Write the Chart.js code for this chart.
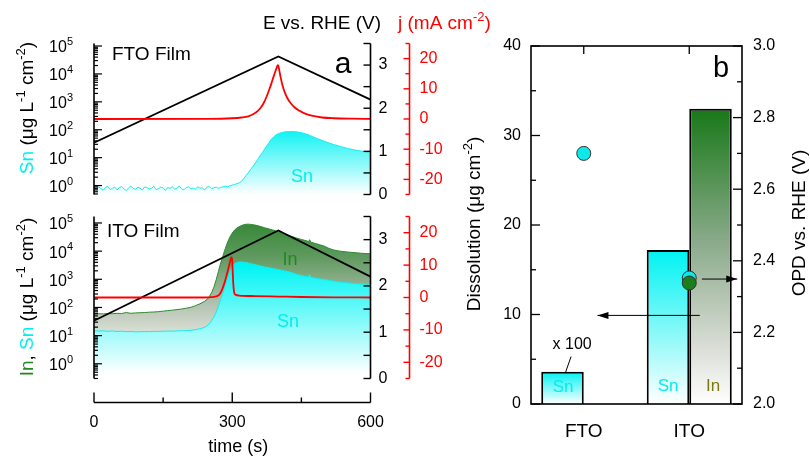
<!DOCTYPE html>
<html><head><meta charset="utf-8">
<script src="https://cdn.jsdelivr.net/npm/chart.js@4.4.0/dist/chart.umd.min.js"></script>
<style>
html,body{margin:0;padding:0;background:#fff;}
#wrap{position:relative;width:810px;height:462px;overflow:hidden;background:#fff;}
canvas{position:absolute;left:0;top:0;}
</style></head><body>
<div id="wrap">
<canvas id="cTop" width="810" height="462"></canvas>
<canvas id="cBot" width="810" height="462"></canvas>
<canvas id="cBar" width="810" height="462"></canvas>
</div>
<script>
// ---------------- DATA (panel a) ----------------
// time (s) vs potential E (V vs RHE)
const eTop = [[0,1.2],[400,3.2],[600,2.2]];
const eBottom = [[0,1.25],[400,3.2],[600,2.2]];
// current density j (mA cm-2)
const jTop = [[0,0],[250,0.05],[300,0.25],[320,0.5],[335,0.9],[345,1.6],[355,2.6],[362,3.8],[368,5.2],[374,7.2],[380,9.6],[385,11.8],[390,14.2],[394,16],[397,17.2],[399,17.8],[400,17.6],[402,16.2],[405,13.8],[409,11.2],[414,8.8],[420,6.8],[427,5.2],[435,3.9],[445,2.8],[458,1.8],[475,1.0],[495,0.5],[520,0.25],[560,0.1],[600,0.05]];
const jBottom = [[0,0],[240,0],[255,0.1],[263,0.25],[268,0.5],[272,0.9],[276,1.8],[280,3.2],[284,4.9],[288,7],[292,9.2],[295,11],[297.5,12.3],[299,12.4],[300,11.2],[301,8],[302,4.8],[303.5,2.2],[305,1.2],[308,0.8],[315,0.6],[350,0.45],[400,0.3],[450,0.15],[520,0.05],[600,0]];
// dissolved Sn from FTO film (ug L-1 cm-2)
const snFTO = [[0,0.82],[5,0.74],[10,0.9],[15,0.78],[20,0.68],[25,0.86],[30,0.95],[35,0.72],[40,0.8],[45,0.88],
[50,0.7],[55,0.84],[60,0.92],[65,0.76],[70,0.66],[75,0.83],[80,0.97],[85,0.79],[90,0.73],[95,0.87],
[100,0.81],[105,0.69],[110,0.9],[115,0.85],[120,0.75],[125,0.8],[130,0.94],[135,0.71],[140,0.78],[145,0.88],
[150,0.83],[155,0.67],[160,0.86],[165,0.79],[170,0.92],[175,0.74],[180,0.81],[185,0.96],[190,0.77],[195,0.7],
[200,0.85],[205,0.89],[210,0.76],[215,0.82],[220,0.73],[225,0.91],[230,0.8],[235,0.84],[240,0.69],[245,0.87],
[250,0.93],[255,0.78],[260,0.83],[265,0.88],[270,0.8],[275,0.86],[280,0.9],[285,0.95],
[290,0.9],[295,0.98],[300,1.04],[305,1.1],[310,1.16],[315,1.25],[320,1.42],[325,1.78],[330,2.3],[335,2.9],
[340,3.8],[345,4.9],[350,6.4],[355,8.4],[360,11.5],[365,15],[370,20],[375,26.5],[380,35],[385,46],
[390,56],[395,65],[400,72],[405,77],[410,81],[415,84],[420,86],[425,85],[430,87],[435,85],
[440,84],[445,81],[450,78],[455,74],[460,70],[465,66],[470,61],[475,56],[480,52],[485,48],
[490,44.5],[495,41],[500,38.5],[505,36],[510,33.5],[515,31.5],[520,29.5],[525,28],[530,26.5],[535,25.2],
[540,23.8],[545,22.6],[550,21.5],[555,20.6],[560,19.7],[565,19],[570,18.3],[575,17.7],[580,17.2],[585,16.7],
[590,16.3],[595,16],[600,15.9]];
// dissolved In and Sn from ITO film (ug L-1 cm-2)
const inITO = [[0,58],[10,60],[20,59],[30,61],[40,60],[50,62],[60,61],[70,66],[80,62],[90,64],[100,65],[110,66],[120,68],[130,69],[140,71],[150,74],[160,77],[170,80],[180,84],[190,88],[200,94],[210,101],[220,115],[230,135],[240,165],[245,190],[250,240],[255,330],[260,520],[265,950],[270,1900],[275,3800],[280,7000],[285,12500],[290,21000],[295,32000],[300,44000],[305,56000],[310,66000],[315,74000],[320,81000],[325,87000],[330,90000],[335,91000],[340,89000],[350,84000],[360,76000],[370,68000],[380,61000],[390,55000],[400,49000],[410,42000],[420,37000],[430,33000],[440,29000],[450,26000],[460,23500],[466,22000],[468,25500],[470,21000],[480,18800],[490,16800],[500,15000],[510,12500],[520,11000],[530,10200],[540,9700],[550,9300],[560,9000],[570,8700],[580,8400],[590,8200],[600,8100]];
const snITO = [[0,15],[10,14.5],[20,14.8],[30,14.2],[40,14.6],[50,14],[60,14.4],[70,13.8],[80,14.1],[90,13.6],[100,13.7],[110,14],[120,13.8],[130,14.2],[140,14],[150,14.3],[160,14.5],[170,14.4],[180,14.7],[190,14.9],[200,15],[210,15.5],[220,16.3],[230,17.5],[240,19.6],[245,22],[250,26],[255,33.5],[260,45],[265,66],[270,110],[275,195],[280,350],[285,650],[290,1150],[295,1930],[300,2800],[305,3600],[310,3950],[315,4100],[320,4130],[330,3950],[340,3600],[350,3300],[360,3000],[370,2750],[380,2550],[390,2380],[400,2210],[410,2050],[420,1880],[430,1700],[440,1500],[450,1360],[460,1260],[466,1220],[468,1480],[470,1180],[480,1100],[490,1030],[500,980],[510,920],[520,860],[530,810],[540,780],[550,750],[560,720],[570,700],[580,680],[590,665],[600,656]];
// tick labels
const logExponents = [0,1,2,3,4,5];
const eTicks = [0,1,2,3];
const jTicks = [20,10,0,-10,-20];
const timeTicks = [0,300,600];

// ---------------- DATA (panel b) ----------------
const materials = ['FTO','ITO'];
const dissolutionSn = [3.6, 17.2];      // ug cm-2 (FTO value x100)
const dissolutionIn = [null, 33.0];
const opdSn = [2.70, 2.352];            // V vs RHE
const opdIn = [null, 2.338];
const dissTicks = [0,10,20,30,40];
const opdTicks = [2.0,2.2,2.4,2.6,2.8,3.0];

// ---------------- STYLE ----------------
const FONT = '"Liberation Sans", Arial, Helvetica, sans-serif';
const CYAN_TXT = '#00eeee';
const GREEN_LINE = '#2e8b2e';
const GREEN_TXT = '#1f8a1f';
const RED = '#ff0000';
Chart.defaults.font.family = FONT;

function toXY(a){ return a.map(p => ({x:p[0], y:p[1]})); }
function grad(chart, stops, top, bottom){
  const a = chart.chartArea;
  if (!a) return stops[0][1];
  const g = chart.ctx.createLinearGradient(0, top == null ? a.top : top, 0, bottom == null ? a.bottom : bottom);
  for (const [o,c] of stops) g.addColorStop(o,c);
  return g;
}
function line(ctx,x1,y1,x2,y2,color,w){
  ctx.beginPath(); ctx.moveTo(x1,y1); ctx.lineTo(x2,y2);
  ctx.strokeStyle = color; ctx.lineWidth = w; ctx.stroke();
}
function supSize(s){ return Math.round(s*0.68); }
function richWidth(ctx, segs, size){
  let w = 0;
  for (const s of segs){ ctx.font = (s.sup ? supSize(size) : size) + 'px ' + FONT; w += ctx.measureText(s.t).width; }
  return w;
}
function rich(ctx, segs, x, y, size, align, rot){
  ctx.save(); ctx.translate(x,y); if (rot) ctx.rotate(rot);
  const w = richWidth(ctx, segs, size);
  let cx = align === 'center' ? -w/2 : (align === 'right' ? -w : 0);
  ctx.textBaseline = 'middle'; ctx.textAlign = 'left';
  for (const s of segs){
    const fs = s.sup ? supSize(size) : size;
    ctx.font = fs + 'px ' + FONT; ctx.fillStyle = s.c || '#000';
    ctx.fillText(s.t, cx, s.sup ? -size*0.36 : 0);
    cx += ctx.measureText(s.t).width;
  }
  ctx.restore();
}
function txt(ctx, t, x, y, size, align, color, baseline){
  ctx.save(); ctx.font = size + 'px ' + FONT; ctx.fillStyle = color || '#000';
  ctx.textAlign = align || 'center'; ctx.textBaseline = baseline || 'middle';
  ctx.fillText(t, x, y); ctx.restore();
}

// shared axis drawing for panel a
function drawPanelAxes(chart){
  const ctx = chart.ctx, a = chart.chartArea;
  const sL = chart.scales.yLog, sE = chart.scales.yE, sJ = chart.scales.yJ;
  ctx.save();
  // log axis (left)
  line(ctx, a.left, a.top, a.left, a.bottom, '#000', 1.6);
  for (let e = -1; e <= 5; e++){
    for (let m = 1; m < 10; m++){
      const v = m * Math.pow(10, e);
      if (v < sL.min*0.999 || v > sL.max*1.001) continue;
      const y = sL.getPixelForValue(v);
      line(ctx, a.left, y, a.left + (m === 1 ? 8 : 4), y, '#000', 1.2);
    }
  }
  for (const e of logExponents){
    rich(ctx, [{t:'10'},{t:String(e), sup:true}], a.left - 21, sL.getPixelForValue(Math.pow(10,e)) + 2, 16, 'right');
  }
  // E axis (right of plot)
  line(ctx, a.right, a.top, a.right, a.bottom, '#000', 1.6);
  for (let k = 0; k <= 7; k++){
    const y = sE.getPixelForValue(k*0.5);
    line(ctx, a.right, y, a.right - 7, y, '#000', 1.4);
  }
  for (const v of eTicks) txt(ctx, String(v), a.right + 8, sE.getPixelForValue(v), 16, 'left');
  // j axis (red, further right)
  const xj = a.right + 39;
  line(ctx, xj, a.top, xj, a.bottom, RED, 1.6);
  for (let k = -5; k <= 5; k++){
    const y = sJ.getPixelForValue(k*5);
    line(ctx, xj, y, xj - (k % 2 === 0 ? 6 : 4), y, RED, 1.4);
  }
  for (const v of jTicks) txt(ctx, String(v), xj + 10, sJ.getPixelForValue(v), 16, 'left', RED);
  ctx.restore();
}

const commonOpts = {
  responsive:false, animation:false, devicePixelRatio:1,
  plugins:{legend:{display:false}, tooltip:{enabled:false}},
  events:[]
};

// ---------------- TOP PANEL (FTO) ----------------
new Chart(document.getElementById('cTop'), {
  type:'line',
  data:{datasets:[
    {label:'j', data:toXY(jTop), yAxisID:'yJ', borderColor:RED, borderWidth:1.8, pointRadius:0, fill:false, cubicInterpolationMode:'monotone'},
    {label:'E', data:toXY(eTop), yAxisID:'yE', borderColor:'#000', borderWidth:1.8, pointRadius:0, fill:false, tension:0},
    {label:'Sn', data:toXY(snFTO), yAxisID:'yLog', borderColor:'#10eeee', borderWidth:1, pointRadius:0, tension:0,
      fill:'start', backgroundColor:(c)=>grad(c.chart, [[0.55,'#00f2f2'],[1,'#ffffff']])}
  ]},
  options:Object.assign({}, commonOpts, {
    layout:{padding:{left:94, right:810-370.5, top:43.5, bottom:462-194.5}},
    scales:{
      x:{type:'linear', min:0, max:600, display:false},
      yLog:{type:'logarithmic', min:Math.pow(10,-0.32), max:Math.pow(10,5.09), display:false},
      yE:{type:'linear', min:0, max:3.5, display:false},
      yJ:{type:'linear', min:-25, max:25, display:false}
    }
  }),
  plugins:[{id:'axesTop', afterDraw(chart){
    const ctx = chart.ctx;
    drawPanelAxes(chart);
    ctx.save();
    txt(ctx, 'E vs. RHE (V)', 322, 24, 19, 'center');
    rich(ctx, [{t:'j (mA cm', c:RED},{t:'-2', sup:true, c:RED},{t:')', c:RED}], 398, 24, 19, 'left');
    rich(ctx, [{t:'Sn', c:CYAN_TXT},{t:' (\u03bcg L'},{t:'-1',sup:true},{t:' cm'},{t:'-2',sup:true},{t:')'}], 28, 108, 19, 'center', -Math.PI/2);
    txt(ctx, 'FTO Film', 112, 60, 19, 'left', '#000', 'alphabetic');
    txt(ctx, 'a', 343, 73, 30, 'center', '#000', 'alphabetic');
    txt(ctx, 'Sn', 302, 177, 18, 'center', CYAN_TXT);
    ctx.restore();
  }}]
});

// ---------------- BOTTOM PANEL (ITO) ----------------
new Chart(document.getElementById('cBot'), {
  type:'line',
  data:{datasets:[
    {label:'j', data:toXY(jBottom), yAxisID:'yJ', borderColor:RED, borderWidth:1.8, pointRadius:0, fill:false, cubicInterpolationMode:'monotone'},
    {label:'E', data:toXY(eBottom), yAxisID:'yE', borderColor:'#000', borderWidth:1.8, pointRadius:0, fill:false, tension:0},
    {label:'Sn', data:toXY(snITO), yAxisID:'yLog', borderColor:'#10eeee', borderWidth:1, pointRadius:0, tension:0,
      fill:'start', backgroundColor:(c)=>grad(c.chart, [[0.3,'#00f4f4'],[0.97,'#ffffff']])},
    {label:'In', data:toXY(inITO), yAxisID:'yLog', borderColor:GREEN_LINE, borderWidth:1, pointRadius:0, tension:0,
      fill:'start', backgroundColor:(c)=>grad(c.chart, [[0,'#2f842f'],[0.25,'#5f9a5f'],[0.5,'#a9bba7'],[0.75,'#e2e5dd'],[1,'#ffffff']])}
  ]},
  options:Object.assign({}, commonOpts, {
    layout:{padding:{left:94, right:810-370.5, top:216.5, bottom:462-378.5}},
    scales:{
      x:{type:'linear', min:0, max:600, display:false},
      yLog:{type:'logarithmic', min:Math.pow(10,-0.475), max:Math.pow(10,5.23), display:false},
      yE:{type:'linear', min:0, max:3.5, display:false},
      yJ:{type:'linear', min:-25, max:25, display:false}
    }
  }),
  plugins:[{id:'axesBot', afterDraw(chart){
    const ctx = chart.ctx, sx = chart.scales.x;
    drawPanelAxes(chart);
    ctx.save();
    const yAx = 402.5;
    line(ctx, sx.getPixelForValue(0), yAx, sx.getPixelForValue(600), yAx, '#000', 1.6);
    for (let k = 0; k <= 4; k++){
      const x = sx.getPixelForValue(k*150);
      line(ctx, x, yAx, x, yAx - (k % 2 === 0 ? 10 : 5), '#000', 1.4);
    }
    for (const v of timeTicks) txt(ctx, String(v), sx.getPixelForValue(v), 423, 16, 'center');
    txt(ctx, 'time (s)', sx.getPixelForValue(300)+6, 447, 18, 'center');
    rich(ctx, [{t:'In', c:GREEN_TXT},{t:', '},{t:'Sn', c:CYAN_TXT},{t:' (\u03bcg L'},{t:'-1',sup:true},{t:' cm'},{t:'-2',sup:true},{t:')'}], 28, 297, 19, 'center', -Math.PI/2);
    txt(ctx, 'ITO Film', 107, 237, 19, 'left', '#000', 'alphabetic');
    txt(ctx, 'In', 290, 260, 18, 'center', GREEN_TXT);
    txt(ctx, 'Sn', 288, 322, 18, 'center', CYAN_TXT);
    ctx.restore();
  }}]
});

// ---------------- PANEL b ----------------
function barGrad(stops){
  return (c) => {
    const ch = c.chart;
    if (!ch.chartArea || c.raw == null) return stops[0][1];
    const s = ch.scales.yD;
    return grad(ch, stops, s.getPixelForValue(c.raw), s.getPixelForValue(0));
  };
}
new Chart(document.getElementById('cBar'), {
  type:'bar',
  data:{labels:materials, datasets:[
    {type:'line', label:'OPD In', data:opdIn, yAxisID:'yOPD', showLine:false, pointRadius:7, pointBackgroundColor:'#1b7d1b', pointBorderColor:'#333', pointBorderWidth:1, order:0},
    {type:'line', label:'OPD Sn', data:opdSn, yAxisID:'yOPD', showLine:false, pointRadius:7, pointBackgroundColor:'#10e8e8', pointBorderColor:'#333', pointBorderWidth:1, order:1},
    {type:'bar', label:'Sn', data:dissolutionSn, yAxisID:'yD', backgroundColor:barGrad([[0,'#00f2f2'],[1,'#ffffff']]), borderColor:'#000', borderWidth:2, order:3},
    {type:'bar', label:'In', data:dissolutionIn, yAxisID:'yD', backgroundColor:barGrad([[0,'#187818'],[0.45,'#8aaa8a'],[0.8,'#d8dcd4'],[1,'#ffffff']]), borderColor:'#000', borderWidth:2, order:3}
  ]},
  options:Object.assign({}, commonOpts, {
    layout:{padding:{left:531, right:810-742, top:46, bottom:462-404}},
    datasets:{bar:{categoryPercentage:0.806, barPercentage:1}},
    scales:{
      x:{type:'category', offset:true, display:false},
      yD:{type:'linear', min:0, max:40, display:false},
      yOPD:{type:'linear', min:2, max:3, display:false}
    }
  }),
  plugins:[{id:'axesBar', afterDraw(chart){
    const ctx = chart.ctx, a = chart.chartArea, sx = chart.scales.x, yD = chart.scales.yD, yO = chart.scales.yOPD;
    ctx.save();
    ctx.strokeStyle = '#000'; ctx.lineWidth = 1.6;
    ctx.strokeRect(a.left, a.top, a.right - a.left, a.bottom - a.top);
    for (let v = 0; v <= 40; v += 5){
      const y = yD.getPixelForValue(v);
      line(ctx, a.left, y, a.left + (v % 10 === 0 ? 9 : 5), y, '#000', 1.3);
    }
    for (const v of dissTicks) txt(ctx, String(v), a.left - 10, yD.getPixelForValue(v), 16, 'right');
    for (let k = 0; k <= 10; k++){
      const y = yO.getPixelForValue(2 + k*0.1);
      line(ctx, a.right, y, a.right - (k % 2 === 0 ? 9 : 5), y, '#000', 1.3);
    }
    for (const v of opdTicks) txt(ctx, v.toFixed(1), a.right + 11, yO.getPixelForValue(v), 16, 'left');
    materials.forEach((m, i) => {
      const px = sx.getPixelForValue(i);
      line(ctx, px, a.top, px, a.top + 8, '#000', 1.3);
      txt(ctx, m, px, a.bottom + 28, 19, 'center');
    });
    rich(ctx, [{t:'Dissolution (\u03bcg cm'},{t:'-2',sup:true},{t:')'}], 475, 224, 19, 'center', -Math.PI/2);
    rich(ctx, [{t:'OPD vs. RHE (V)'}], 800, 223, 19, 'center', -Math.PI/2);
    function arrow(x1, y, x2){
      line(ctx, x1, y, x2, y, '#000', 1);
      const d = x2 > x1 ? -1 : 1;
      ctx.beginPath(); ctx.moveTo(x2, y); ctx.lineTo(x2 + d*11, y - 3.5); ctx.lineTo(x2 + d*11, y + 3.5); ctx.closePath();
      ctx.fillStyle = '#000'; ctx.fill();
    }
    arrow(sx.getPixelForValue(1.1), yD.getPixelForValue(9.9), sx.getPixelForValue(0.13));
    arrow(sx.getPixelForValue(1.12), yO.getPixelForValue(2.349), sx.getPixelForValue(1.455));
    txt(ctx, 'x 100', sx.getPixelForValue(-0.11), yD.getPixelForValue(6.6), 16, 'center');
    line(ctx, sx.getPixelForValue(-0.12), yD.getPixelForValue(5.3), sx.getPixelForValue(-0.175), yD.getPixelForValue(3.45), '#000', 1);
    txt(ctx, 'Sn', sx.getPixelForValue(-0.195), yD.getPixelForValue(1.85), 17, 'center', CYAN_TXT);
    txt(ctx, 'Sn', sx.getPixelForValue(0.8), yD.getPixelForValue(1.95), 17, 'center', CYAN_TXT);
    txt(ctx, 'In', sx.getPixelForValue(1.227), yD.getPixelForValue(1.95), 17, 'center', '#7a7a10');
    txt(ctx, 'b', 721, 77, 29, 'center', '#000', 'alphabetic');
    ctx.restore();
  }}]
});
</script>
</body></html>
